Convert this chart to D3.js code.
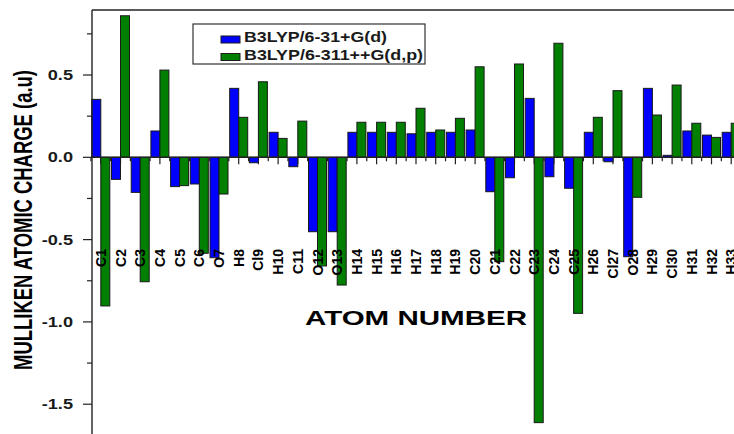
<!DOCTYPE html>
<html>
<head>
<meta charset="utf-8">
<script src="https://cdn.jsdelivr.net/npm/d3@7"></script>
<style>
  body { margin: 0; background: #fff; }
  svg { display: block; font-family: "Liberation Sans", Arial, sans-serif; }
</style>
</head>
<body>
<div id="chart"></div>
<script>
// atom labels along the x axis
const atoms = ["C1", "C2", "C3", "C4", "C5", "C6", "O7", "H8", "Cl9", "H10", "C11",
    "O12", "O13", "H14", "H15", "H16", "H17", "H18", "H19", "C20", "C21", "C22",
    "C23", "C24", "C25", "H26", "Cl27", "O28", "H29", "Cl30", "H31", "H32", "H33"];

// B3LYP/6-31+G(d) charges (blue)
const chargeSmall = [0.352, -0.134, -0.213, 0.160, -0.178, -0.162, -0.610, 0.419, -0.033, 0.152, -0.057,
    -0.452, -0.452, 0.152, 0.152, 0.152, 0.143, 0.152, 0.152, 0.166, -0.209, -0.124,
    0.358, -0.118, -0.188, 0.152, -0.027, -0.604, 0.419, 0.012, 0.160, 0.135, 0.152];

// B3LYP/6-311++G(d,p) charges (green)
const chargeLarge = [-0.903, 0.860, -0.756, 0.530, -0.172, -0.583, -0.223, 0.243, 0.459, 0.115, 0.220,
    -0.660, -0.776, 0.213, 0.213, 0.213, 0.298, 0.166, 0.237, 0.550, -0.634, 0.567,
    -1.612, 0.693, -0.948, 0.243, 0.405, -0.243, 0.257, 0.439, 0.207, 0.121, 0.207];

const seriesNames = ["B3LYP/6-31+G(d)", "B3LYP/6-311++G(d,p)"];
const seriesColors = ["#0000ff", "#007f00"];
const yMajorTicks = [-1.5, -1.0, -0.5, 0.0, 0.5];
const yMinorTicks = [-1.25, -0.75, -0.25, 0.25, 0.75];

const width = 734, height = 434;
const axisColor = "#222";

const svg = d3.select("#chart")
    .append("svg")
    .attr("width", width)
    .attr("height", height);

// scales
const x = d3.scaleLinear().domain([1, atoms.length]).range([100.8, 731.2]);
const y = d3.scaleLinear().domain([-1.681, 0.895]).range([434, 10]);
const barW = 9;
const plotLeft = 92, plotTop = 10;

// x ticks (under the bars)
const xTicks = svg.append("g");
d3.range(1, atoms.length + 1).forEach(i => {
    xTicks.append("line")
        .attr("x1", x(i)).attr("x2", x(i))
        .attr("y1", y(0)).attr("y2", y(0) + 7)
        .attr("stroke", axisColor).attr("stroke-width", 1.2);
});
d3.range(0.5, atoms.length + 1, 1).forEach(i => {
    xTicks.append("line")
        .attr("x1", x(i)).attr("x2", x(i))
        .attr("y1", y(0)).attr("y2", y(0) + 4)
        .attr("stroke", axisColor).attr("stroke-width", 1.2);
});

// bars
const barData = [];
atoms.forEach((a, i) => {
    barData.push({ idx: i + 1, v: chargeSmall[i], s: 0 });
    barData.push({ idx: i + 1, v: chargeLarge[i], s: 1 });
});

svg.append("g")
    .selectAll("rect")
    .data(barData)
    .join("rect")
    .attr("x", d => x(d.idx) + (d.s - 1) * barW)
    .attr("y", d => Math.min(y(d.v), y(0)))
    .attr("width", barW)
    .attr("height", d => Math.abs(y(d.v) - y(0)))
    .attr("fill", d => seriesColors[d.s])
    .attr("stroke", "#1a1a1a")
    .attr("stroke-width", 1);

// frame lines and zero line
svg.append("line")
    .attr("x1", plotLeft).attr("x2", width)
    .attr("y1", plotTop).attr("y2", plotTop)
    .attr("stroke", axisColor).attr("stroke-width", 1.4);
svg.append("line")
    .attr("x1", plotLeft).attr("x2", plotLeft)
    .attr("y1", plotTop).attr("y2", height)
    .attr("stroke", axisColor).attr("stroke-width", 1.4);
svg.append("line")
    .attr("x1", plotLeft).attr("x2", width)
    .attr("y1", y(0)).attr("y2", y(0))
    .attr("stroke", axisColor).attr("stroke-width", 1.4);

// y ticks
yMajorTicks.forEach(t => {
    svg.append("line")
        .attr("x1", plotLeft - 9).attr("x2", plotLeft)
        .attr("y1", y(t)).attr("y2", y(t))
        .attr("stroke", axisColor).attr("stroke-width", 1.2);
    svg.append("text")
        .attr("transform", `translate(73,${y(t) + 5}) scale(1.3,1)`)
        .attr("text-anchor", "end")
        .attr("font-size", 14)
        .attr("font-weight", "bold")
        .attr("fill", "#1a1a1a")
        .text(t.toFixed(1));
});
yMinorTicks.forEach(t => {
    svg.append("line")
        .attr("x1", plotLeft - 5).attr("x2", plotLeft)
        .attr("y1", y(t)).attr("y2", y(t))
        .attr("stroke", axisColor).attr("stroke-width", 1.2);
});

// atom labels, rotated
svg.append("g")
    .selectAll("text")
    .data(atoms)
    .join("text")
    .attr("transform", (d, i) => `translate(${x(i + 1) + 5},249) rotate(-90)`)
    .attr("text-anchor", "end")
    .attr("font-size", 14)
    .attr("font-weight", "bold")
    .attr("fill", "#000")
    .text(d => d);

// axis titles
svg.append("text")
    .attr("x", 305).attr("y", 325)
    .attr("font-size", 21)
    .attr("font-weight", "bold")
    .attr("textLength", 222)
    .attr("lengthAdjust", "spacingAndGlyphs")
    .attr("fill", "#000")
    .text("ATOM NUMBER");

svg.append("text")
    .attr("transform", "translate(31.5,220) scale(1.4,1) rotate(-90)")
    .attr("text-anchor", "middle")
    .attr("font-size", 18)
    .attr("font-weight", "bold")
    .attr("textLength", 300)
    .attr("lengthAdjust", "spacingAndGlyphs")
    .attr("fill", "#000")
    .text("MULLIKEN ATOMIC CHARGE (a.u)");

// legend
const legend = svg.append("g");
legend.append("rect")
    .attr("x", 193).attr("y", 24)
    .attr("width", 232).attr("height", 40)
    .attr("fill", "#fff")
    .attr("stroke", "#333").attr("stroke-width", 1.2);
const legendLen = [143, 179];
seriesNames.forEach((name, i) => {
    legend.append("rect")
        .attr("x", 221).attr("y", 36 + i * 17.5)
        .attr("width", 19).attr("height", 7)
        .attr("fill", seriesColors[i])
        .attr("stroke", "#1a1a1a").attr("stroke-width", 1);
    legend.append("text")
        .attr("x", 244).attr("y", 42 + i * 18)
        .attr("font-size", 14)
        .attr("font-weight", "bold")
        .attr("textLength", legendLen[i])
        .attr("lengthAdjust", "spacingAndGlyphs")
        .attr("fill", "#1a1a1a")
        .text(name);
});
</script>
</body>
</html>
